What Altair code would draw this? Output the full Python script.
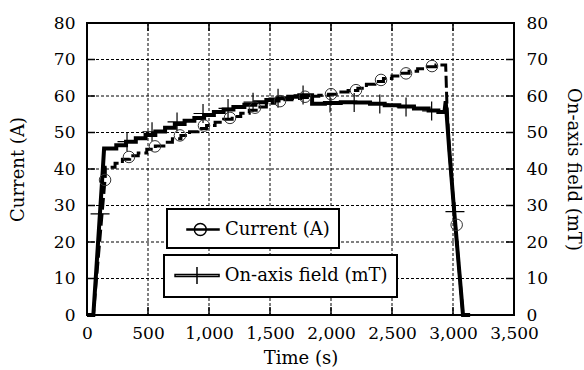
import altair as alt
import pandas as pd

# ---------------- data ----------------
x_ticks = [0, 500, 1000, 1500, 2000, 2500, 3000, 3500]
y_ticks = [0, 10, 20, 30, 40, 50, 60, 70, 80]

# Current (A): ramp up, staircase plateaus, ramp down
cur_up_t = [0, 52, 150]
cur_up_v = [0, 0, 38]
cur_step_t = [150, 230, 290, 350, 420, 490, 560, 630, 700, 770, 840, 910, 980,
              1050, 1120, 1190, 1260, 1330, 1400, 1470, 1540, 1610, 1680, 1750,
              1820, 1900, 1980, 2060, 2140, 2220, 2290, 2360, 2430, 2500, 2570,
              2640, 2710, 2790, 2860, 2940]
cur_step_v = [40.5, 41.6, 42.7, 43.6, 44.4, 45.4, 46.3, 47.3, 48.3, 49.2, 50.2,
              51.1, 51.9, 52.8, 53.6, 54.4, 55.3, 56.1, 57.0, 58.0, 58.6, 59.0,
              59.3, 59.6, 59.9, 60.2, 60.5, 61.1, 61.5, 62.1, 63.2, 64.0, 64.8,
              65.5, 66.2, 66.8, 67.5, 68.0, 68.5]
cur_down_t = [2940, 2950, 2970, 3010, 3082, 3140]
cur_down_v = [68.5, 58.0, 45.0, 28.3, 0, 0]

# On-axis field (mT)
fld_up_t = [0, 52, 128, 140]
fld_up_v = [0, 0, 39, 45.6]
fld_step_t = [140, 240, 320, 400, 480, 560, 640, 720, 800, 880, 960, 1040, 1120,
              1200, 1290, 1380, 1470, 1560, 1650, 1740, 1845, 1950, 2080, 2200,
              2320, 2440, 2560, 2680, 2800, 2880, 2930]
fld_step_v = [45.6, 46.5, 47.5, 48.4, 49.3, 50.3, 51.3, 52.3, 53.2, 54.0, 54.8,
              55.6, 56.3, 57.0, 57.6, 58.3, 58.9, 59.4, 59.8, 60.2, 57.9, 58.1,
              58.3, 58.2, 57.9, 57.5, 57.1, 56.6, 56.0, 55.6]
fld_down_t = [2930, 2940, 2970, 3010, 3082, 3140]
fld_down_v = [55.6, 58.6, 45.0, 28.3, 0, 0]

# markers
circ_t = [148, 344, 557, 762, 959, 1172, 1377, 1582, 1787, 2000, 2205, 2410, 2615, 2828, 3030]
circ_v = [37, 43.3, 46.2, 49.2, 51.9, 54.0, 56.8, 58.6, 59.8, 60.5, 61.6, 64.4, 66.2, 68.2, 24.7]
plus_t = [107, 328, 533, 738, 951, 1156, 1361, 1566, 1771, 1992, 2190, 2400, 2615, 2825, 3016]
plus_v = [27.7, 47.5, 50.2, 52.9, 55.2, 56.6, 58.3, 59.4, 60.3, 58.1, 58.2, 57.8, 57.0, 55.9, 28.3]

CUR = "Current (A)"
FLD = "On-axis field (mT)"


def build(up_t, up_v, st_t, st_v, dn_t, dn_v, name):
    pts = list(zip(up_t, up_v))
    for i, v in enumerate(st_v):
        pts.append((st_t[i], v))
        pts.append((st_t[i + 1], v))
    pts += list(zip(dn_t, dn_v))
    df = pd.DataFrame(pts, columns=["t", "v"])
    df["i"] = range(len(df))
    df["s"] = name
    return df


df_cur = build(cur_up_t, cur_up_v, cur_step_t, cur_step_v, cur_down_t, cur_down_v, CUR)
df_fld = build(fld_up_t, fld_up_v, fld_step_t, fld_step_v, fld_down_t, fld_down_v, FLD)
df_circ = pd.DataFrame({"t": circ_t, "v": circ_v})
df_plus = pd.DataFrame({"t": plus_t, "v": plus_v})
df_yt = pd.DataFrame({"v": y_ticks[1:-1]})
df_xt = pd.DataFrame({"t": x_ticks[1:-1]})

W, H = 427, 292
FONT = "DejaVu Serif"
xs = alt.Scale(domain=[0, 3500], nice=False, zero=False)
ys = alt.Scale(domain=[0, 80], nice=False)

x_axis = alt.Axis(values=x_ticks, format=",d", title="Time (s)", grid=False,
                  labelPadding=10, titlePadding=8, labelOverlap=False, labelFlush=False)
left_axis = alt.Axis(values=y_ticks, title=CUR, grid=False, orient="left",
                     labelPadding=12, titlePadding=26, labelOverlap=False, labelFlush=False)
right_axis = alt.Axis(values=y_ticks, title=FLD, grid=False, orient="right",
                      labelPadding=12, titlePadding=16, titleAngle=90,
                      labelOverlap=False, labelFlush=False)

cur_sym = ("M-0.05,-0.05H3V0.05H-0.05Z"
           "M0.65,0A0.57,0.57 0 1,1 1.79,0A0.57,0.57 0 1,1 0.65,0Z")
fld_sym = "M-0.9,-0.095H3.29V0.095H-0.9ZM1.19,-0.81V0.81"

leg_common = dict(orient="none", title=None, symbolSize=441, symbolStrokeWidth=1.5,
                  symbolStrokeColor="black", symbolFillColor="transparent",
                  padding=9, strokeColor="black", fillColor="white", labelLimit=400,
                  labelFont=FONT, labelFontSize=18, labelColor="black")
leg_cur = alt.Legend(legendX=80, legendY=186, symbolType=cur_sym, labelOffset=26, **leg_common)
leg_fld = alt.Legend(legendX=77, legendY=232, symbolType=fld_sym, labelOffset=28.7, **leg_common)

# every layer that uses x shares the same axis definition (merged into one axis)
X = alt.X("t:Q", scale=xs, axis=x_axis)

# dotted grid drawn from the tick arrays (full-span rules)
grid_x = alt.Chart(df_xt).mark_rule(color="black", strokeWidth=1, strokeDash=[3, 2]).encode(x=X)
grid_y = alt.Chart(df_yt).mark_rule(color="black", strokeWidth=1, strokeDash=[3, 2]).encode(
    y=alt.Y("v:Q", scale=ys, axis=None))

field_line = alt.Chart(df_fld).mark_line(strokeWidth=4, strokeCap="butt").encode(
    x=X,
    y=alt.Y("v:Q", scale=ys, axis=right_axis),
    order="i:Q",
    color=alt.Color("s:N", scale=alt.Scale(domain=[FLD], range=["black"]), legend=leg_fld),
)

current_line = alt.Chart(df_cur).mark_line(strokeWidth=3, strokeDash=[12, 4], strokeCap="butt").encode(
    x=X,
    y=alt.Y("v:Q", scale=ys, axis=left_axis),
    order="i:Q",
    stroke=alt.Stroke("s:N", scale=alt.Scale(domain=[CUR], range=["black"]), legend=leg_cur),
)

plus_pts = alt.Chart(df_plus).mark_point(shape="M-1,0H1M0,-1V1", size=361, filled=False,
                                        color="black", strokeWidth=1.2, opacity=1).encode(
    x=X,
    y=alt.Y("v:Q", scale=ys, axis=None),
)

circ_pts = alt.Chart(df_circ).mark_point(shape="circle", size=133, filled=False,
                                        color="#333333", strokeWidth=1, opacity=1).encode(
    x=X,
    y=alt.Y("v:Q", scale=ys, axis=None),
)

tick_kw = dict(color="black", thickness=1.5, size=8, opacity=1)
ytick_l = alt.Chart(df_yt).mark_tick(orient="horizontal", **tick_kw).encode(
    y=alt.Y("v:Q", scale=ys, axis=None), x=alt.value(4))
ytick_r = alt.Chart(df_yt).mark_tick(orient="horizontal", **tick_kw).encode(
    y=alt.Y("v:Q", scale=ys, axis=None), x=alt.value(W - 4))
xtick_b = alt.Chart(df_xt).mark_tick(orient="vertical", **tick_kw).encode(
    x=X, y=alt.value(H - 4))
xtick_t = alt.Chart(df_xt).mark_tick(orient="vertical", **tick_kw).encode(
    x=X, y=alt.value(4))

chart = alt.layer(
    grid_x, grid_y, current_line, field_line, ytick_l, ytick_r, xtick_b, xtick_t,
    plus_pts, circ_pts
).resolve_axis(y="independent").resolve_scale(
    color="independent", stroke="independent"
).properties(
    width=W, height=H,
    autosize=alt.AutoSizeParams(type="none"),
    padding={"left": 87, "top": 23, "right": 70, "bottom": 55},
).configure_view(
    stroke="black", strokeWidth=2
).configure_axis(
    labelFont=FONT, titleFont=FONT,
    labelFontSize=17, titleFontSize=18,
    titleFontWeight="normal", labelColor="black", titleColor="black",
    domain=False, ticks=False,
).configure_legend(
    strokeWidth=2
)

chart.save("out.html", embed_options={"renderer": "svg", "actions": False})
